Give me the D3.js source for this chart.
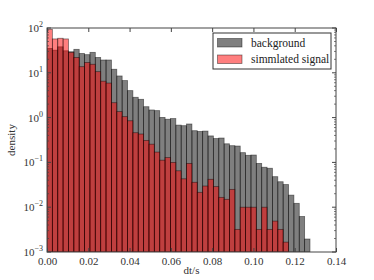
<!DOCTYPE html>
<html>
<head>
<meta charset="utf-8">
<script src="https://cdn.jsdelivr.net/npm/d3@7"></script>
<style>
body { margin: 0; background: #fff; }
</style>
</head>
<body>
<div id="chart-area"></div>
<script>
// histogram bin width (dt in s), bins start at 0
var binWidth = 0.0026;

var background = [35, 32, 38, 31, 29.5, 33.4, 27, 25.4, 28.6, 22,
	19.3, 19.3, 12, 8.5, 6.7, 4.0, 2.84, 2.56, 1.75, 1.48,
	1.43, 1.01, 0.92, 0.95, 0.68, 0.66, 0.72, 0.51, 0.49, 0.50,
	0.39, 0.34, 0.35, 0.26, 0.236, 0.232, 0.165, 0.144, 0.146, 0.095,
	0.078, 0.074, 0.048, 0.037, 0.032, 0.0186, 0.0122, 0.0062, 0.00195];

var signal = [93.5, 57, 59, 57, 28.6, 22, 13.7, 17, 15.5, 10.6,
	6.5, 5.9, 2.15, 1.36, 1.05, 0.85, 0.46, 0.43, 0.31, 0.255,
	0.17, 0.112, 0.128, 0.10, 0.065, 0.043, 0.095, 0.036, 0.0215, 0.0297,
	0.042, 0.0288, 0.0166, 0.015, 0.025, 0.0032, 0.010, 0.010, 0.010, 0.0032,
	0.010, 0.0032, 0.0049, 0.0032, 0.00166];

var xTicks = [0, 0.02, 0.04, 0.06, 0.08, 0.10, 0.12, 0.14];
var yTicks = [1e-3, 1e-2, 1e-1, 1, 10, 100];
var yExp = ["\u22123", "\u22122", "\u22121", "0", "1", "2"];
var legendLabels = ["background", "simmlated signal"];

var serif = "'Liberation Serif', 'DejaVu Serif', serif";
var mwidth = 374, mheight = 280;
var margin = {top: 28, right: 38, bottom: 28, left: 47};
var w = mwidth - margin.left - margin.right;
var h = mheight - margin.top - margin.bottom;

var svg = d3.select("#chart-area").append("svg")
	.attr("width", mwidth)
	.attr("height", mheight)
	.style("font-family", serif);

var g = svg.append("g")
	.attr("transform", "translate(" + margin.left + "," + margin.top + ")");

var x = d3.scaleLinear().domain([0, 0.14]).range([0, w]);
var y = d3.scaleLog().domain([1e-3, 100]).range([h, 0]);

svg.append("defs").append("clipPath").attr("id", "clip")
	.append("rect").attr("width", w).attr("height", h);

var bars = g.append("g").attr("clip-path", "url(#clip)");

function drawHist(vals, fill) {
	bars.append("g").selectAll("rect")
		.data(vals)
		.enter().append("rect")
		.attr("x", (d, i) => x(i * binWidth))
		.attr("width", (d, i) => x((i + 1) * binWidth) - x(i * binWidth))
		.attr("y", (d) => y(d))
		.attr("height", (d) => h - y(d))
		.attr("fill", fill)
		.attr("stroke", "rgba(0,0,0,0.5)")
		.attr("stroke-width", 0.8);
}
drawHist(background, "rgba(0,0,0,0.5)");
drawHist(signal, "rgba(255,0,0,0.5)");

// axes with inward ticks
var frameColor = "#444";
g.append("g")
	.attr("transform", "translate(0," + h + ")")
	.call(d3.axisBottom(x).tickValues(xTicks).tickSizeInner(-4).tickSizeOuter(0)
		.tickFormat(d3.format(".2f")))
	.attr("font-family", serif)
	.call((a) => a.select(".domain").remove())
	.call((a) => a.selectAll("line").attr("stroke", frameColor))
	.call((a) => a.selectAll("text").attr("y", 5).attr("dy", "0.75em")
		.attr("font-size", "11px").style("font-family", serif).style("fill", "#333"));

g.append("g")
	.call(d3.axisTop(x).tickValues(xTicks).tickSizeInner(-4).tickSizeOuter(0).tickFormat(""))
	.call((a) => a.select(".domain").remove())
	.call((a) => a.selectAll("line").attr("stroke", frameColor));

var minor = [];
for (var k = -3; k < 2; k++) {
	for (var m = 2; m < 10; m++) minor.push(m * Math.pow(10, k));
}

[0, w].forEach((xx) => {
	var dir = xx === 0 ? 1 : -1;
	g.append("g").selectAll("line.major").data(yTicks).enter().append("line")
		.attr("x1", xx).attr("x2", xx + dir * 4)
		.attr("y1", (d) => y(d)).attr("y2", (d) => y(d))
		.attr("stroke", frameColor);
	g.append("g").selectAll("line.minor").data(minor).enter().append("line")
		.attr("x1", xx).attr("x2", xx + dir * 2)
		.attr("y1", (d) => y(d)).attr("y2", (d) => y(d))
		.attr("stroke", frameColor).attr("stroke-width", 0.7);
});

var ylab = g.append("g").selectAll("text").data(yTicks).enter().append("text")
	.attr("x", -4)
	.attr("y", (d) => y(d) + 4)
	.attr("text-anchor", "end")
	.attr("font-size", "11px")
	.style("font-family", serif)
	.style("fill", "#333");
ylab.append("tspan").text("10");
ylab.append("tspan").attr("dy", -5).attr("font-size", "8px").text((d, i) => yExp[i]);

g.append("rect")
	.attr("width", w).attr("height", h)
	.attr("fill", "none").attr("stroke", frameColor).attr("stroke-width", 1);

// labels
g.append("text")
	.attr("x", -h / 2).attr("y", -32)
	.attr("transform", "rotate(-90)")
	.attr("text-anchor", "middle")
	.attr("font-size", "11px")
	.style("font-family", serif)
	.style("fill", "#333")
	.text("density");

g.append("text")
	.attr("x", w / 2).attr("y", h + 22)
	.attr("text-anchor", "middle")
	.attr("font-size", "11px")
	.style("font-family", serif)
	.style("fill", "#333")
	.text("dt/s");

// legend
var lg = g.append("g").attr("transform", "translate(" + (213 - margin.left) + "," + (33 - margin.top) + ")");
lg.append("rect").attr("width", 118).attr("height", 36)
	.attr("fill", "#fff").attr("stroke", "#333").attr("stroke-width", 1);
var colors = ["rgba(0,0,0,0.5)", "rgba(255,0,0,0.5)"];
legendLabels.forEach((lab, i) => {
	lg.append("rect").attr("x", 4.5).attr("y", 5.5 + i * 16.5)
		.attr("width", 24.5).attr("height", 8.5)
		.attr("fill", colors[i]).attr("stroke", "rgba(0,0,0,0.5)").attr("stroke-width", 0.8);
	lg.append("text").attr("x", 38).attr("y", 13.5 + i * 16.5)
		.attr("font-size", "11.5px")
		.style("font-family", serif)
		.style("fill", "#222")
		.text(lab);
});
</script>
</body>
</html>
